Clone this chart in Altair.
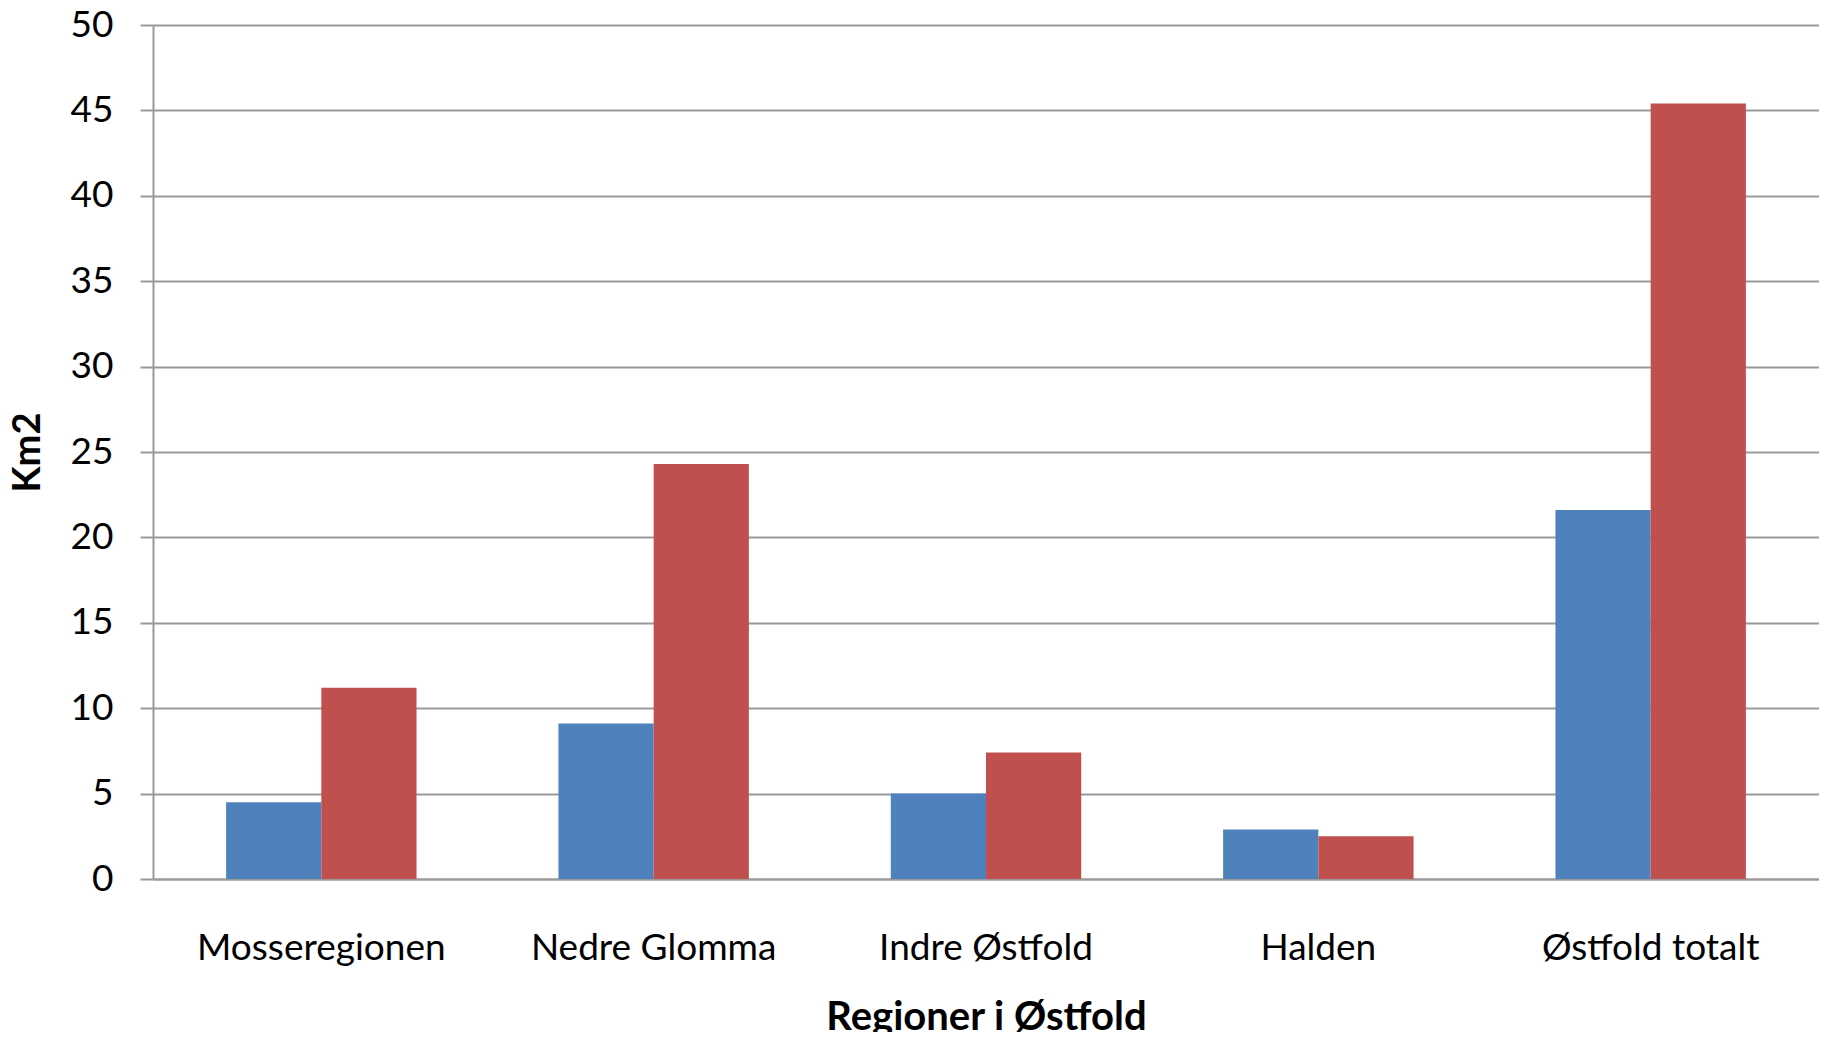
import altair as alt
import pandas as pd

regions = ["Mosseregionen", "Nedre Glomma", "Indre Østfold", "Halden", "Østfold totalt"]
series = ["Serie 1", "Serie 2"]
serie1 = [4.5, 9.1, 5.0, 2.9, 21.6]
serie2 = [11.2, 24.3, 7.4, 2.5, 45.4]
colors = ["#4F81BD", "#C0504D"]
y_ticks = [0, 5, 10, 15, 20, 25, 30, 35, 40, 45, 50]

rows = []
for r, a, b in zip(regions, serie1, serie2):
    rows.append({"region": r, "serie": series[0], "value": a})
    rows.append({"region": r, "serie": series[1], "value": b})
df = pd.DataFrame(rows)

FONT = "Lato"
W, H = 1666, 854

chart = alt.Chart(df).mark_bar().encode(
    x=alt.X(
        "region:N",
        sort=regions,
        scale=alt.Scale(paddingInner=0.427, paddingOuter=0.22),
        axis=alt.Axis(
            title="Regioner i Østfold",
            labelAngle=0,
            ticks=False,
            tickSize=0,
            labelPadding=80,
            labelLimit=0,
            labelBaseline="alphabetic",
            labelFont=FONT,
            labelFontSize=37,
            labelColor="#000000",
            titleFont=FONT,
            titleFontSize=40,
            titleFontWeight="bold",
            titleColor="#000000",
            titleX=W / 2,
            titleY=150,
            titleBaseline="alphabetic",
            titleAlign="center",
            domainColor="#999999",
            domainWidth=2,
            grid=False,
        ),
    ),
    xOffset=alt.XOffset("serie:N", sort=series, scale=alt.Scale(paddingInner=0, paddingOuter=0)),
    y=alt.Y(
        "value:Q",
        scale=alt.Scale(domain=[0, 50], nice=False),
        axis=alt.Axis(
            title="Km2",
            values=y_ticks,
            tickSize=13,
            tickColor="#999999",
            tickWidth=2,
            labelPadding=27,
            labelFont=FONT,
            labelFontSize=37,
            labelColor="#000000",
            labelBaseline="middle",
            titleFont=FONT,
            titleFontSize=38,
            titleFontWeight="bold",
            titleColor="#000000",
            titleX=-125,
            titleY=H / 2,
            titleBaseline="middle",
            titleAlign="center",
            titleAngle=270,
            domainColor="#999999",
            domainWidth=2,
            grid=True,
            gridColor="#999999",
            gridWidth=2,
        ),
    ),
    color=alt.Color("serie:N", scale=alt.Scale(domain=series, range=colors), legend=None),
).properties(
    width=W,
    height=H,
    autosize=alt.AutoSizeParams(type="none"),
    padding={"left": 145, "top": 17, "right": 0, "bottom": 153},
).configure_view(stroke=None).configure(background="#ffffff")

chart.save("out.html", embed_options={"renderer": "svg", "actions": False})
